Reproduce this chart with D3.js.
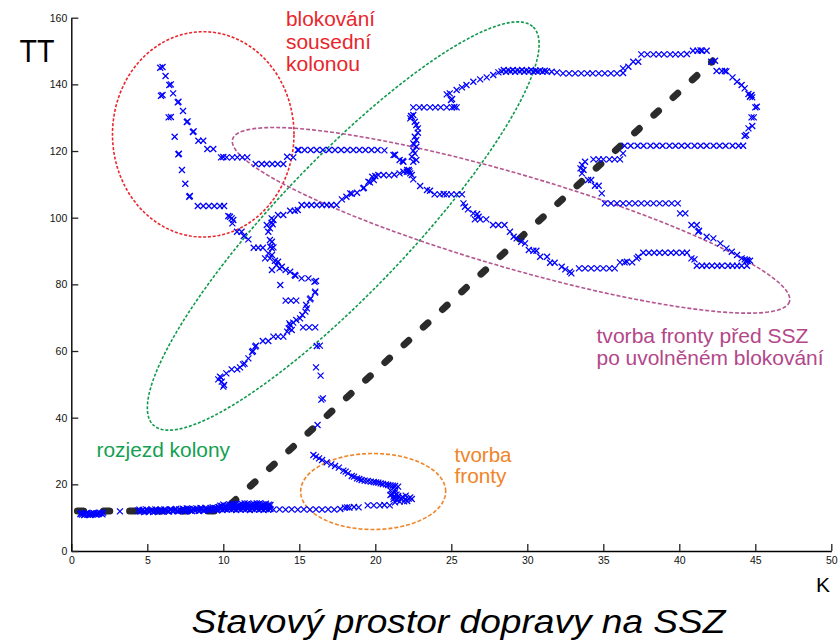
<!DOCTYPE html>
<html><head><meta charset="utf-8">
<script src="https://cdn.jsdelivr.net/npm/d3@7/dist/d3.min.js"></script>
<style>
html,body{margin:0;padding:0;background:#fff;}
svg{display:block;}
text{font-family:"Liberation Sans",Arial,sans-serif;}
</style></head>
<body>
<script>
// ---------- DATA ----------
const xTicks = [0,5,10,15,20,25,30,35,40,45,50];
const yTicks = [0,20,40,60,80,100,120,140,160];

// reference (dashed) model line: K, TT
const modelK  = [0.4, 10, 42.2];
const modelTT = [12, 12, 147];

// measured trajectory, [K, TT]
const startupBand = [
 [0.6,11.1],[0.7,10.9],[0.8,11.2],[0.9,11.0],[1.0,11.3],[1.1,10.9],[1.2,11.1],[1.3,11.3],[1.4,10.9],
 [1.5,11.2],[1.6,11.0],[1.7,11.3],[1.8,11.1],[1.9,11.4],[2.0,11.2],[2.1,11.5],[3.2,11.9],
 [0.65,11.4],[0.85,10.8],[1.05,11.4],[1.25,10.8],[1.45,11.4],[1.65,10.9],[1.85,11.5],[2.05,11.0],
 [4.4,12.1],[4.55,11.8],[4.7,12.3],[4.85,11.9],[5.0,12.2],[5.15,11.8],[5.3,12.4],[5.45,12.0],[5.6,12.2],
 [5.75,11.9],[5.9,12.4],[6.05,12.0],[6.2,12.3],[6.35,11.9],[6.5,12.4],[6.65,12.1],[6.8,12.3],[6.95,12.0],
 [7.1,12.5],[7.25,12.1],[7.4,12.4],[7.55,12.0],[7.7,12.5],[7.85,12.2],[8.0,12.6],[8.15,12.1],[8.3,12.5],
 [8.45,12.2],[8.6,12.7],[8.75,12.3],[8.9,12.6],[9.05,12.2],[9.2,12.8],[9.35,12.4],[9.5,12.7],
 [4.48,12.4],[4.63,12.0],[4.78,11.7],[4.93,12.5],[5.08,12.0],[5.23,12.1],[5.38,11.7],[5.53,12.5],
 [5.68,12.0],[5.83,12.2],[5.98,11.8],[6.13,12.5],[6.28,12.1],[6.43,11.8],[6.58,12.5],[6.73,12.0],
 [6.88,12.6],[7.03,11.9],[7.18,12.2],[7.33,12.7],[7.48,11.9],[7.63,12.3],[7.78,12.6],[7.93,12.0],
 [8.08,12.4],[8.23,12.8],[8.38,12.0],[8.53,12.4],[8.68,12.1],[8.83,12.9],[8.98,12.4],[9.13,12.1],
 [9.28,12.6],[9.43,12.9],[9.58,12.2],
 [9.65,12.4],[9.8,12.6],[9.95,12.3],[10.1,12.6],[10.25,12.4],[10.4,12.7],[10.55,12.4],[10.7,12.6],
 [10.85,12.3],[11.0,12.6],[11.15,12.4],[11.3,12.7],[11.45,12.4],[11.6,12.6],[11.75,12.3],[11.9,12.6],
 [12.05,12.4],[12.2,12.7],[12.35,12.4],[12.5,12.6],[12.65,12.3],[12.8,12.6],[12.95,12.4],[13.1,12.6],
 [9.73,12.9],[9.88,13.0],[10.03,12.8],[10.18,13.1],[10.33,12.9],[10.48,13.2],[10.63,13.0],[10.78,13.3],
 [10.93,13.0],[11.08,13.2],[11.23,13.0],[11.38,13.3],[11.53,13.1],[11.68,13.2],[11.83,13.0],[11.98,13.3],
 [12.13,13.1],[12.28,13.2],[12.43,13.0],[12.58,13.3],[12.73,13.1],[12.88,13.2],[13.03,13.0],
 [9.7,13.2],[9.9,13.5],[10.1,13.3],[10.3,13.7],[10.5,13.4],[10.7,13.8],[10.9,13.5],[11.1,13.9],
 [11.3,13.6],[11.5,13.9],[11.7,13.6],[11.9,14.0],[12.1,13.7],[12.3,14.0],[12.5,13.7],[12.7,13.9],
 [12.9,13.6],[13.1,13.8],[10.6,14.2],[11.4,14.3],[12.2,14.3],[9.3,13.1],[8.5,12.9],[7.6,12.8],
 [9.8,13.6],[10.0,13.9],[10.2,13.5],[10.4,14.0],[10.6,13.6],[10.8,14.1],[11.0,13.7],[11.2,14.2],
 [11.4,13.8],[11.6,14.2],[11.8,13.8],[12.0,14.2],[12.2,13.9],[12.4,14.3],[12.6,13.9],[12.8,14.2],[13.0,13.9]
];
const queueFormation = [
 [13.3,12.4],[13.7,12.5],[14.1,12.4],[14.5,12.5],[14.9,12.4],[15.3,12.5],[15.7,12.4],[16.1,12.5],
 [16.5,12.4],[16.9,12.5],[17.3,12.4],[17.7,12.6],[18.0,13.0],[18.15,13.1],[18.3,13.0],[18.6,13.2],
 [18.9,13.1],[19.5,13.7],[19.9,13.7],[20.3,13.7],[20.6,13.8],[20.95,13.7],
 [21.0,16.8],[21.1,17.1],[21.2,16.3],[21.3,14.6],[21.4,15.3],[21.6,14.8],[21.7,15.8],[21.95,15.5],
 [22.1,15.0],[22.3,16.1],[22.4,15.6],[21.5,16.5],[21.8,16.2],[21.3,17.6],[22.0,16.6],[21.2,15.6],
 [21.0,18.2],[21.3,18.3],[21.5,15.9],[21.9,14.9],[22.2,15.7],[21.4,16.9],
 [15.93,28.8],[16.1,28.3],[16.3,27.8],[16.5,27.3],[16.8,26.6],[17.1,26.0],[17.35,25.5],[17.6,25.0],
 [17.9,24.1],[18.05,23.8],[18.2,23.3],[18.45,22.5],[18.6,22.3],[18.8,21.8],[18.95,21.6],[19.1,21.3],
 [19.3,21.1],[19.5,21.0],[19.7,20.8],[19.9,20.7],[20.05,20.6],[20.2,20.5],[20.35,20.3],[20.5,20.1],
 [20.7,20.0],[20.85,19.8],[21.0,19.7],[21.15,19.6],[21.3,19.5],[21.5,19.3]
];
const climbOut = [
 [16.2,37.8],[16.45,45.4],[16.55,45.8],[16.4,52.6],[16.1,55.1],[16.15,61.5],[16.35,61.6]
];
const platoonRelease = [
 [9.78,52.3],[9.67,51.5],[9.9,50.8],[10.0,49.3],[10.05,49.8],[9.85,52.0],[10.2,53.3],[10.55,54.5],
 [10.92,54.5],[11.1,55.1],[11.3,56.0],[11.4,56.2],[11.65,57.8],[11.9,59.7],[11.95,60.0],[12.1,61.3],
 [12.15,61.6],[12.6,63.0],[12.96,63.0],[13.3,64.3],[13.6,64.3],[13.95,64.3],[14.2,65.8],[14.3,66.8],
 [14.5,66.3],[14.4,67.8],[14.35,68.3],[14.6,68.5],[14.8,69.3],[15.05,69.8],[15.2,70.8],[15.4,71.8],
 [15.5,72.8],[15.45,73.8],[15.7,75.5],[15.75,75.8],[16.03,77.5],[16.05,77.8],
 [15.25,67.1],[15.65,67.1],[16.05,67.1],
 [14.1,75.1],[14.45,75.1],[14.8,75.1],
 [13.75,79.8],
 [16.0,80.8],[16.1,81.0],[15.6,81.8],[15.15,81.8],[14.7,82.8],[14.75,82.6],[14.4,83.8],[14.1,84.3],
 [13.85,85.3],[13.7,84.8],[13.2,84.3],[13.5,85.8],[13.6,86.8],[13.4,87.1],[13.07,87.8],[12.75,87.8],
 [13.2,88.8],[12.96,89.3],[13.2,90.8],[13.3,91.1],[13.1,91.3],[13.07,93.3],[13.2,92.8],
 [12.0,91.0],[12.3,91.0],[12.6,91.0],
 [11.65,93.5],[11.35,94.5],[11.2,95.8],[10.9,95.8],
 [10.66,99.3],[10.44,100.3],[10.55,99.8],[10.33,100.5],[10.6,98.3],
 [12.96,95.8],[13.07,96.8],[12.86,97.8],[13.18,98.5],[13.3,99.3],[13.18,99.8],[13.25,98.0],
 [13.6,100.8],[13.95,100.8],[14.4,102.1],[14.7,102.1],[14.9,102.3],
 [15.15,103.8],[15.5,103.8],[15.8,103.8],[16.15,103.8],[16.5,103.8],[16.8,103.8],[17.1,103.8],[17.45,103.8],
 [17.8,105.5],[18.1,106.3],[18.35,107.3],[18.45,107.2],[18.8,107.5],[19.2,108.8],[19.25,109.0],
 [19.55,110.8],[19.65,110.6],[19.8,112.3],[19.9,111.3],[20.0,112.5],
 [20.2,112.8],[20.55,112.8],[20.9,112.7],[21.25,112.9],[21.6,113.3],[21.85,113.8],[22.1,114.3]
];
const blockedColumn = [
 [5.85,145.0],[6.0,145.2],[6.2,142.5],[6.45,139.8],[6.55,140.0],[5.9,136.6],[6.0,136.8],[6.7,137.3],
 [7.0,134.6],[7.05,134.8],[6.4,130.1],[6.55,130.2],[7.35,132.0],[7.6,128.7],[7.65,128.9],[6.8,124.3],
 [8.0,125.7],[8.05,125.9],[8.36,123.1],[8.68,123.1],[7.04,119.0],[7.08,119.2],[8.95,120.6],[9.34,120.6],
 [7.28,114.3],[7.5,110.2],[7.76,106.3],[7.8,106.5],
 [8.32,103.5],[8.68,103.5],[9.05,103.5],[9.41,103.5],[9.78,103.5],[10.05,103.5],
 [9.85,118.1],[10.0,118.2],[10.22,118.1],[10.59,118.1],[10.92,118.1],[11.25,118.1],[11.58,118.1],
 [12.13,116.1],[12.53,116.1],[12.86,116.1],[13.22,116.1],[13.58,116.1],[13.95,116.1],
 [14.2,118.3],[14.6,118.1],[14.9,120.3]
];
const middleLoop = [
 [14.95,120.3],[15.35,120.3],[15.75,120.3],[16.15,120.3],[16.55,120.3],[16.95,120.3],[17.35,120.3],
 [17.75,120.3],[18.15,120.3],[18.55,120.3],[18.95,120.3],[19.35,120.3],[19.75,120.3],[20.15,120.3],[20.6,120.2],
 [21.2,118.8],[21.3,118.9],[21.6,117.3],[21.85,116.8],[21.8,117.0],
 [22.2,114.3],[22.3,113.3],[22.4,112.8],[22.07,113.8],[22.25,113.9],
 [22.5,111.5],[22.95,109.5],[23.4,108.3],[23.6,108.1],[23.9,107.0],[24.25,107.0],[24.5,107.1],
 [24.7,107.0],[25.0,107.0],[25.35,107.0],[25.7,107.0],
 [22.6,128.8],[22.7,127.8],[22.8,126.8],[22.8,125.5],[22.6,124.3],[22.7,123.3],[22.5,122.3],
 [22.7,121.3],[22.5,120.1],[22.6,119.3],[22.4,118.3],[22.7,117.3],[22.5,116.8],[22.55,122.0],
 [22.4,130.3],[22.3,129.8],[22.5,130.8],[22.35,130.5],
 [22.5,133.1],[22.9,133.1],[23.2,133.1],[23.6,133.1],[23.95,133.1],[24.3,133.1],[24.7,133.1],
 [25.05,133.1],[25.2,133.2],[25.35,133.1],
 [24.98,135.3],[25.05,135.6],
 [24.7,137.0],[24.9,137.3],[25.35,138.3],[25.7,139.1],[26.0,139.8],[26.45,140.8],[26.9,141.5],
 [27.33,142.1],[27.76,142.8]
];
const upperRight = [
 [28.1,143.6],[28.3,143.9],[28.45,144.3],[28.6,143.8],[28.75,144.2],[28.9,143.9],[29.05,144.3],
 [29.2,143.8],[29.35,144.2],[29.5,143.9],[29.65,144.3],[29.8,143.8],[29.95,144.2],[30.1,143.9],
 [30.25,144.3],[30.4,143.8],[30.55,144.1],[30.7,143.9],[30.85,144.2],[31.0,143.8],[31.15,144.1],
 [31.3,143.9],[31.6,143.8],[31.95,143.6],
 [32.35,143.3],[32.75,143.3],[33.15,143.3],[33.55,143.3],[33.95,143.3],[34.3,143.3],[34.7,143.3],
 [35.1,143.3],[35.5,143.3],[35.9,143.3],[36.3,143.4],
 [36.3,144.8],[36.65,145.3],[36.97,146.8],[37.3,146.8],
 [37.5,149.0],[37.9,149.0],[38.3,149.0],[38.65,149.0],[39.0,149.0],[39.4,149.0],[39.75,149.0],
 [40.1,149.0],[40.5,149.1],
 [40.9,150.1],[41.2,150.1],[41.4,150.2],[41.5,150.1],[41.8,150.1],
 [42.1,146.8],[42.35,147.1],[42.45,144.0],[42.8,144.0],[43.0,144.0],[43.1,143.9],
 [43.5,142.1],[43.8,140.8],[44.1,139.8],[44.3,138.8],
 [44.55,137.1],[44.65,136.3],[44.75,136.8],[44.8,136.1],[44.7,136.6],
 [45.0,133.1],[45.1,133.3],[44.75,130.1],[44.9,130.1],[44.55,126.8],[44.8,127.5],[44.3,124.5],[44.4,124.8],
 [36.4,121.6],[36.8,121.6],[37.25,121.6],[37.65,121.6],[38.1,121.6],[38.5,121.6],[38.9,121.6],
 [39.35,121.6],[39.75,121.6],[40.15,121.6],[40.55,121.6],[41.0,121.6],[41.4,121.6],[41.8,121.6],
 [42.25,121.6],[42.65,121.6],[43.05,121.6],[43.5,121.6],[43.9,121.6],[44.2,121.6],
 [36.3,119.3],
 [34.35,117.5],[34.7,117.5],[35.0,117.5],[35.4,117.5],[35.75,117.5],[36.1,117.5],
 [33.8,116.8],[33.6,115.8],[33.5,114.8],[33.7,114.3],[33.6,113.3],[34.0,111.3],[34.2,111.3],
 [34.45,109.6],[34.7,109.6],[34.9,107.3],
 [35.1,104.3],[35.5,104.3],[35.9,104.3],[36.3,104.3],[36.7,104.3],[37.1,104.3],[37.5,104.3],
 [37.9,104.3],[38.3,104.3],[38.7,104.3],[39.1,104.3],[39.5,104.3],[39.9,104.3],
 [40.05,101.3],[40.4,101.3],[40.8,97.8],[41.15,97.8],[41.3,96.1]
];
const queueAfterBlock = [
 [25.8,104.3],[25.9,103.3],[26.1,102.5],[26.45,101.3],[26.7,101.1],[26.8,100.3],[26.55,99.5],
 [26.9,99.5],[27.3,99.5],[27.75,97.8],[28.1,97.8],[28.5,97.8],[28.86,95.8],[29.1,94.3],[29.3,93.8],
 [29.6,92.8],[29.85,92.3],[30.1,90.3],[30.4,90.1],[30.6,90.1],[30.85,88.3],[31.3,88.3],[31.5,86.5],
 [31.8,86.5],[32.26,85.3],[32.5,84.5],[32.8,83.8],[32.9,83.3],
 [33.4,84.8],[33.8,84.8],[34.2,84.8],[34.6,84.8],[35.0,84.8],[35.4,84.8],[35.75,84.8],
 [36.1,86.6],[36.4,86.6],[36.55,86.8],[36.9,86.6],[37.2,87.8],[37.3,88.3],
 [37.63,89.5],[38.0,89.5],[38.35,89.5],[38.7,89.5],[39.06,89.5],[39.45,89.5],[39.8,89.5],[40.2,89.5],[40.5,89.5],
 [40.8,87.8],[41.0,87.5],
 [41.15,85.6],[41.5,85.6],[41.8,85.6],[42.15,85.6],[42.5,85.6],[42.8,85.6],[43.2,85.6],[43.5,85.6],
 [43.8,85.6],[44.1,85.6],[44.45,85.6],
 [41.25,95.8],[41.8,94.3],[42.24,93.8],[42.7,92.3],[43.1,90.8],[43.45,89.8],[43.8,88.8],[44.1,87.8],
 [44.45,87.3],[44.65,87.1],[44.5,87.0],[44.3,87.5]
];

// annotation ellipses: centre and two semi-axis vectors (in K, TT units)
const regions = [
 {name:"blokování", c:[8.68,125], a:[5.97,0], b:[0,30.8], color:"#e8262c", dash:"3,1.8"},
 {name:"rozjezd",   c:[17.89,97.5], a:[12.5,59.7], b:[3.14,-13.7], color:"#0f9a4c", dash:"3,1.8"},
 {name:"fronta SSZ",c:[28.93,99.2], a:[18.32,-24.36], b:[-0.87,-13.5], color:"#b4568f", dash:"4,2"},
 {name:"fronta",    c:[19.86,17.85], a:[4.77,0], b:[0,11.4], color:"#f08428", dash:"4,2"}
];

// ---------- DRAW ----------
const W = 840, H = 643;
const svg = d3.select("body").append("svg").attr("width", W).attr("height", H);

const x = d3.scaleLinear().domain([0,50]).range([71.3,831.3]);
const y = d3.scaleLinear().domain([0,160]).range([551,17.7]);

// axes
const gx = svg.append("g").attr("transform", `translate(0,${y(0)})`)
  .call(d3.axisBottom(x).tickValues(xTicks).tickSizeInner(-7).tickSizeOuter(0).tickPadding(6));
const gy = svg.append("g").attr("transform", `translate(${x(0)},0)`)
  .call(d3.axisLeft(y).tickValues(yTicks).tickSizeInner(-7).tickSizeOuter(0).tickPadding(4));
[gx, gy].forEach(g => {
  g.select(".domain").attr("stroke", "#000").attr("stroke-width", 1.4);
  g.selectAll(".tick line").attr("stroke", "#222").attr("stroke-width", 1.3);
  g.selectAll(".tick text").attr("font-family", "'Liberation Sans',Arial,sans-serif")
    .attr("font-size", 10.5).attr("fill", "#111");
});

// ellipses
const angles = d3.range(0, 361, 2).map(d => d * Math.PI / 180);
const eLine = d3.line().x(d => x(d[0])).y(d => y(d[1]));
regions.forEach(r => {
  const pts = angles.map(t => [r.c[0] + Math.cos(t) * r.a[0] + Math.sin(t) * r.b[0],
                               r.c[1] + Math.cos(t) * r.a[1] + Math.sin(t) * r.b[1]]);
  svg.append("path").attr("d", eLine(pts) + "Z").attr("fill", "none")
    .attr("stroke", r.color).attr("stroke-width", 1.6).attr("stroke-dasharray", r.dash);
});

// model line
svg.append("path")
  .attr("d", d3.line().x((d,i) => x(modelK[i])).y((d,i) => y(modelTT[i]))(modelK))
  .attr("fill", "none").attr("stroke", "#2b2b2b").attr("stroke-width", 7)
  .attr("stroke-linecap", "round").attr("stroke-dasharray", "6.3,19.8");

// trajectory markers
const allPts = [].concat(startupBand, queueFormation, climbOut, platoonRelease,
                         blockedColumn, middleLoop, upperRight, queueAfterBlock);
svg.append("g").selectAll("path").data(allPts).enter().append("path")
  .attr("transform", d => `translate(${x(d[0])},${y(d[1])})`)
  .attr("d", "M-3,-3L3,3M-3,3L3,-3")
  .attr("stroke", "#0000ff").attr("stroke-width", 1.25).attr("fill", "none");

// texts
function label(txt, px, py, size, color, len, extra) {
  const t = svg.append("text").attr("x", px).attr("y", py).attr("font-size", size)
    .attr("fill", color).text(txt);
  if (len) t.attr("textLength", len).attr("lengthAdjust", "spacingAndGlyphs");
  if (extra) extra(t);
  return t;
}
label("blokování", 286, 26, 20.5, "#e8262c", 89);
label("sousední", 286, 48.5, 20.5, "#e8262c", 85);
label("kolonou", 286, 70.5, 20.5, "#e8262c", 74);
label("rozjezd kolony", 96.5, 456.7, 19.8, "#13a050", 133.5);
label("tvorba", 454.5, 461.7, 19.8, "#f08428", 57);
label("fronty", 454.5, 483.3, 19.8, "#f08428", 52);
label("tvorba fronty před SSZ", 596.5, 343.3, 19.8, "#b3478a", 212);
label("po uvolněném blokování", 596.5, 365, 19.8, "#b3478a", 227);
label("TT", 19.5, 61.7, 31, "#000", 35);
label("K", 816, 591.7, 21, "#000", null);
label("Stavový prostor dopravy na SSZ", 191.5, 633.3, 33.5, "#000", 534,
      t => t.attr("font-style", "italic"));
</script>
</body></html>
